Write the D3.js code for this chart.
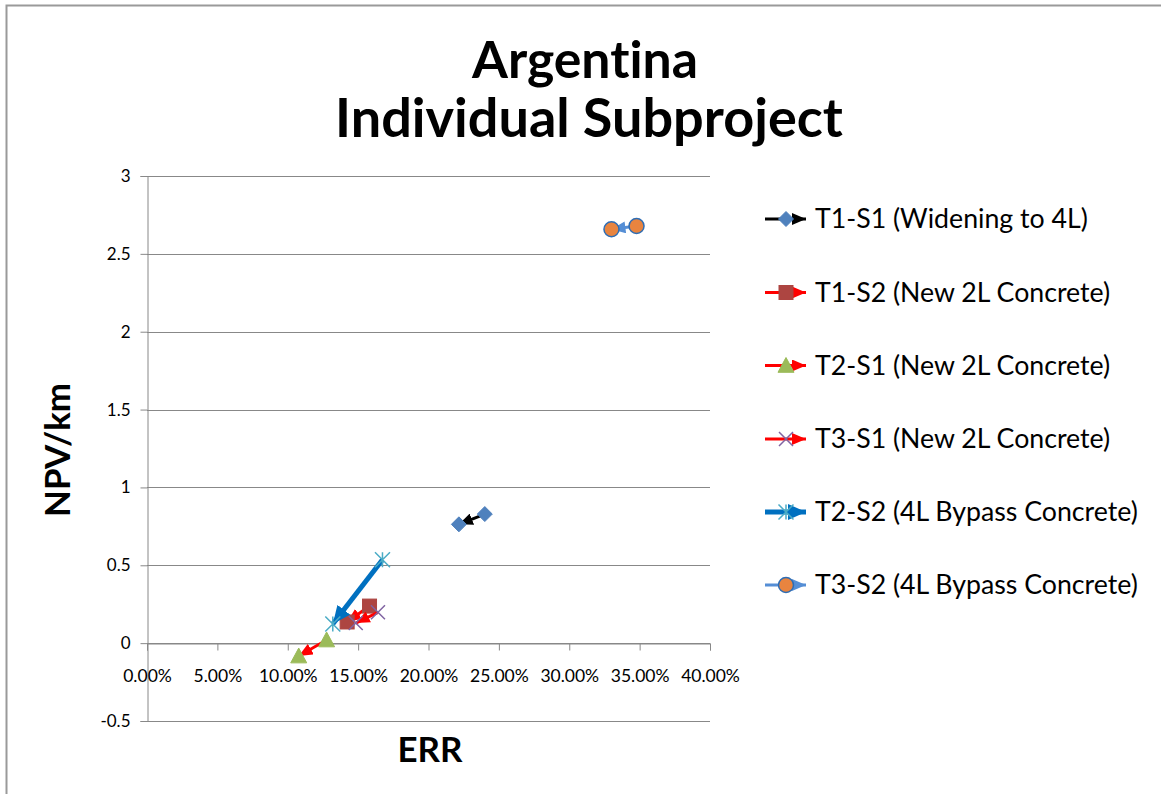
<!DOCTYPE html>
<html>
<head>
<meta charset="utf-8">
<script src="https://cdn.jsdelivr.net/npm/d3@7"></script>
<style>
  html, body { margin: 0; padding: 0; background: #fff; }
  svg { display: block; }
  text { font-family: Lato, "Open Sans", sans-serif; fill: #000; font-variant-ligatures: none; }
</style>
</head>
<body>
<svg id="chart" width="1161" height="794"></svg>
<script>
// ---- data ----
const seriesNames = [
  "T1-S1 (Widening to 4L)",
  "T1-S2 (New 2L Concrete)",
  "T2-S1 (New 2L Concrete)",
  "T3-S1 (New 2L Concrete)",
  "T2-S2 (4L Bypass Concrete)",
  "T3-S2 (4L Bypass Concrete)"
];
// ERR (x) and NPV/km (y): first point is the start, second the arrow end
const errValues = [
  [0.2400, 0.2216],
  [0.1581, 0.1422],
  [0.1276, 0.1078],
  [0.1641, 0.1483],
  [0.1673, 0.1320],
  [0.3478, 0.3300]
];
const npvValues = [
  [0.829, 0.763],
  [0.238, 0.136],
  [0.020, -0.083],
  [0.198, 0.129],
  [0.536, 0.123],
  [2.679, 2.658]
];
const lineColors   = ["#000000", "#FF0000", "#FF0000", "#FF0000", "#0070C0", "#558ED5"];
const lineWidths   = [3, 3, 3, 3, 5, 3];
const markerTypes  = ["diamond", "square", "triangle", "x", "asterisk", "circle"];
const markerFills  = ["#4F81BD", "#AD4541", "#9BBB59", "#8064A2", "#4BACC6", "#E8843F"];
const markerStroke = ["#4F81BD", "#AD4541", "#9BBB59", "#8064A2", "#4BACC6", "#2E6DB4"];

const yTicks = [-0.5, 0, 0.5, 1, 1.5, 2, 2.5, 3];
const xTicks = [0, 0.05, 0.10, 0.15, 0.20, 0.25, 0.30, 0.35, 0.40];

const titleLines = ["Argentina", "Individual Subproject"];
const xTitle = "ERR";
const yTitle = "NPV/km";

// ---- layout ----
const svg = d3.select("#chart");
const plot = { left: 147, right: 710, top: 176, bottom: 721 };
const x = d3.scaleLinear().domain([0, 0.4]).range([plot.left, plot.right]);
const y = d3.scaleLinear().domain([-0.5, 3]).range([plot.bottom, plot.top]);
const gridColor = "#888888";

// chart frame
svg.append("rect")
  .attr("x", 6.5).attr("y", 5.5)
  .attr("width", 1200).attr("height", 900)
  .attr("fill", "none").attr("stroke", "#9a9a9a").attr("stroke-width", 2);

// helper: size a text element so that it spans a target width; returns the size
function fitWidth(sel, target) {
  let fs = 20;
  sel.style("font-size", fs + "px");
  const w = sel.node().getComputedTextLength();
  fs = fs * target / w;
  sel.style("font-size", fs + "px");
  return fs;
}

// title
const t1 = svg.append("text").attr("x", 585).attr("y", 78)
  .attr("text-anchor", "middle").attr("font-weight", "bold").text(titleLines[0]);
fitWidth(t1, 226);
const t2 = svg.append("text").attr("x", 589).attr("y", 137)
  .attr("text-anchor", "middle").attr("font-weight", "bold").text(titleLines[1]);
fitWidth(t2, 508);

// horizontal gridlines
svg.append("g").selectAll("line").data(yTicks).join("line")
  .attr("x1", plot.left).attr("x2", plot.right)
  .attr("y1", d => Math.round(y(d)) + 0.5).attr("y2", d => Math.round(y(d)) + 0.5)
  .attr("stroke", gridColor).attr("stroke-width", 1);

// y axis
const yAxis = svg.append("g").attr("transform", `translate(${plot.left + 0.5},0)`)
  .call(d3.axisLeft(y).tickValues(yTicks).tickSize(7).tickPadding(10)
    .tickFormat(d => String(d)));
yAxis.select(".domain").attr("stroke", gridColor);
yAxis.selectAll(".tick line").attr("stroke", gridColor);
yAxis.selectAll(".tick text").style("font-family", "Lato, sans-serif").style("font-size", "17px").attr("fill", "#000");

// x axis at NPV = 0
const xAxis = svg.append("g").attr("transform", `translate(0,${Math.round(y(0)) + 0.5})`)
  .call(d3.axisBottom(x).tickValues(xTicks).tickSize(7).tickPadding(19)
    .tickFormat(d3.format(".2%")));
xAxis.select(".domain").attr("stroke", gridColor);
xAxis.selectAll(".tick line").attr("stroke", gridColor);
xAxis.selectAll(".tick text").style("font-family", "Lato, sans-serif").style("font-size", "17.5px").attr("fill", "#000");

// axis titles
const xt = svg.append("text").attr("x", 430).attr("y", 762)
  .attr("text-anchor", "middle").attr("font-weight", "bold").text(xTitle);
fitWidth(xt, 65);
const yt = svg.append("text").attr("transform", "translate(70,450) rotate(-90)")
  .attr("text-anchor", "middle").attr("font-weight", "bold").text(yTitle);
fitWidth(yt, 134);

// arrowhead markers, one per series
const defs = svg.append("defs");
seriesNames.forEach((name, i) => {
  const L = lineWidths[i] > 3 ? 18 : 14;
  const W = lineWidths[i] > 3 ? 16 : 12;
  defs.append("marker")
    .attr("id", "arrow" + i)
    .attr("markerUnits", "userSpaceOnUse")
    .attr("viewBox", `0 0 ${L} ${W}`)
    .attr("markerWidth", L).attr("markerHeight", W)
    .attr("refX", L).attr("refY", W / 2)
    .attr("orient", "auto")
    .append("path")
    .attr("d", `M0,0L${L},${W / 2}L0,${W}Z`)
    .attr("fill", lineColors[i]);
});

// marker glyphs
function drawMarker(g, type, cx, cy, i) {
  const fill = markerFills[i], stroke = markerStroke[i];
  if (type === "diamond") {
    const r = 7.5;
    g.append("path").attr("d", `M${cx},${cy - r}L${cx + r},${cy}L${cx},${cy + r}L${cx - r},${cy}Z`)
      .attr("fill", fill).attr("stroke", stroke);
  } else if (type === "square") {
    const r = 7;
    g.append("rect").attr("x", cx - r).attr("y", cy - r).attr("width", 2 * r).attr("height", 2 * r)
      .attr("fill", fill).attr("stroke", stroke);
  } else if (type === "triangle") {
    const r = 8;
    g.append("path").attr("d", `M${cx},${cy - r}L${cx + r},${cy + r * 0.85}L${cx - r},${cy + r * 0.85}Z`)
      .attr("fill", fill).attr("stroke", stroke);
  } else if (type === "x") {
    const r = 7;
    g.append("path").attr("d", `M${cx - r},${cy - r}L${cx + r},${cy + r}M${cx - r},${cy + r}L${cx + r},${cy - r}`)
      .attr("fill", "none").attr("stroke", stroke).attr("stroke-width", 1.5);
  } else if (type === "asterisk") {
    const r = 7.5;
    g.append("path").attr("d", `M${cx - r},${cy - r}L${cx + r},${cy + r}M${cx - r},${cy + r}L${cx + r},${cy - r}M${cx},${cy - r}L${cx},${cy + r}`)
      .attr("fill", "none").attr("stroke", stroke).attr("stroke-width", 1.5);
  } else if (type === "circle") {
    g.append("circle").attr("cx", cx).attr("cy", cy).attr("r", 7.5)
      .attr("fill", fill).attr("stroke", stroke).attr("stroke-width", 1.5);
  }
}

// series: arrow line then markers
const line = d3.line().x(d => x(d[0])).y(d => y(d[1]));
seriesNames.forEach((name, i) => {
  const pts = errValues[i].map((e, k) => [e, npvValues[i][k]]);
  const g = svg.append("g").attr("class", "series");
  g.append("path").attr("d", line(pts))
    .attr("fill", "none").attr("stroke", lineColors[i]).attr("stroke-width", lineWidths[i])
    .attr("marker-end", `url(#arrow${i})`);
  pts.forEach(p => drawMarker(g, markerTypes[i], x(p[0]), y(p[1]), i));
});

// legend
const legendY = [219, 292.5, 365.5, 439, 512, 585];
let legendFont = null;
seriesNames.forEach((name, i) => {
  const g = svg.append("g").attr("class", "legend-item");
  const cy = legendY[i];
  g.append("line").attr("x1", 765).attr("x2", 806).attr("y1", cy).attr("y2", cy)
    .attr("stroke", lineColors[i]).attr("stroke-width", lineWidths[i])
    .attr("marker-end", `url(#arrow${i})`);
  drawMarker(g, markerTypes[i], 786, cy, i);
  const t = g.append("text").attr("x", 815).attr("y", cy + 9).text(name);
  if (legendFont === null) legendFont = fitWidth(t, 273);
  else t.style("font-size", legendFont + "px");
});
</script>
</body>
</html>
